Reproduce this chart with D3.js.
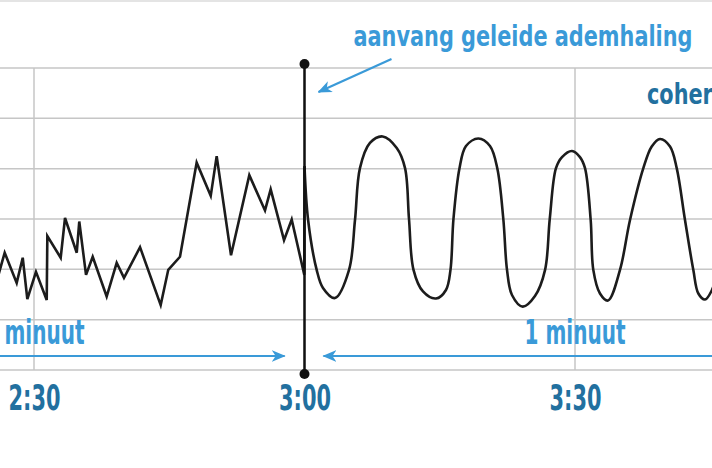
<!DOCTYPE html>
<html><head><meta charset="utf-8">
<script src="https://cdn.jsdelivr.net/npm/d3@7"></script>
<style>html,body{margin:0;padding:0;background:#fff;overflow:hidden}svg{display:block}</style>
</head><body>
<svg id="c" width="712" height="468"></svg>
<script>
// ---- data ----
const xTickSeconds = [150, 180, 210];
const xTickLabels = ["2:30", "3:00", "3:30"];
const gridValues = [50, 60, 70, 80, 90, 100, 110];

// heart rhythm before guided breathing (seconds, value)
const beforeTimes  = [145.9, 146.75, 148.08, 148.75, 149.26, 150.22, 151.41, 151.48, 152.96, 153.44, 154.74, 155.02, 155.77, 156.51, 158.06, 159.17, 159.98, 161.76, 164.05, 164.89, 166.19, 168.04, 169.60, 170.26, 171.85, 173.88, 175.62, 176.25, 177.73, 178.58, 179.98];
const beforeValues = [67.9, 73.3, 67.3, 72.3, 64.1, 69.5, 63.9, 76.6, 72.3, 80.2, 73.3, 79.5, 68.9, 72.5, 64.6, 71.3, 68.3, 74.4, 62.9, 69.9, 72.5, 91.2, 84.6, 92.5, 72.8, 88.7, 81.7, 85.9, 75.8, 79.9, 68.9];

// heart rhythm during guided breathing
const afterTimes  = [180.00, 180.40, 181.35, 182.05, 183.38, 184.94, 185.60, 186.15, 187.26, 188.67, 190.23, 191.15, 191.59, 192.09, 193.14, 194.58, 195.69, 196.19, 196.52, 197.19, 197.91, 199.28, 200.57, 201.38, 202.05, 202.46, 203.01, 204.20, 205.56, 206.68, 207.20, 207.89, 208.56, 209.67, 210.55, 211.11, 211.74, 212.03, 212.77, 213.66, 214.99, 216.10, 217.58, 218.51, 219.43, 220.54, 221.28, 222.20, 223.12, 223.68, 224.42, 225.19, 225.86];
const afterValues = [90.5, 79.8, 69.9, 66.3, 64.3, 69.9, 79.8, 90.1, 95.1, 96.4, 94.1, 90.1, 80.0, 69.9, 65.6, 64.2, 65.9, 69.9, 80.0, 90.1, 94.5, 96.0, 94.5, 90.1, 80.0, 69.9, 64.9, 62.6, 64.7, 69.9, 80.0, 90.1, 92.3, 93.5, 92.3, 90.1, 79.8, 69.9, 65.2, 63.8, 69.9, 79.8, 90.1, 94.4, 95.9, 94.4, 90.1, 79.8, 69.9, 65.2, 64.0, 65.9, 69.9];

const markerTime = 180;
const markerLabel = "aanvang geleide ademhaling";
const phaseLabel = "coherentie";
const spanStarts = [120, 180];
const spanEnds = [180, 240];
const spanLabel = "1 minuut";

// ---- drawing ----
const W = 712, H = 468;
const lightBlue = "#3a9ad8", darkBlue = "#22709f";
const font = "'Liberation Sans Narrow', 'DejaVu Sans Condensed', sans-serif";
const x = d3.scaleLinear().domain([150, 210]).range([34, 575]);
const y = d3.scaleLinear().domain([50, 110]).range([370, 68]);
const svg = d3.select("#c");

const defs = svg.append("defs");
defs.append("marker").attr("id", "ah").attr("viewBox", "0 0 14 12")
  .attr("markerWidth", 14).attr("markerHeight", 12).attr("markerUnits", "userSpaceOnUse")
  .attr("refX", 13).attr("refY", 6).attr("orient", "auto")
  .append("path").attr("d", "M0,0 L14,6 L0,12 L4,6 Z").attr("fill", lightBlue);

// top border
svg.append("line").attr("x1", 0).attr("x2", W).attr("y1", 1).attr("y2", 1)
  .attr("stroke", "#e4e4e4").attr("stroke-width", 2);

// grid
svg.append("g").selectAll("line").data(gridValues).join("line")
  .attr("x1", 0).attr("x2", W).attr("y1", d => y(d)).attr("y2", d => y(d))
  .attr("stroke", "#c6c6c6").attr("stroke-width", 1.5);
svg.append("g").selectAll("line").data(xTickSeconds).join("line")
  .attr("x1", d => x(d)).attr("x2", d => x(d)).attr("y1", y(110)).attr("y2", y(50))
  .attr("stroke", "#c6c6c6").attr("stroke-width", 1.5);

// axis labels
const axis = d3.axisBottom(x).tickValues(xTickSeconds).tickFormat((d, i) => xTickLabels[i]).tickSize(0).tickPadding(0);
const ag = svg.append("g").attr("transform", `translate(0,${y(50) + 40})`).call(axis);
ag.select(".domain").remove();
ag.attr("font-family", font).attr("font-size", 35).attr("font-weight", "bold");
ag.selectAll("text").attr("y", 0).attr("dy", 0).attr("fill", darkBlue)
  .attr("textLength", 52).attr("lengthAdjust", "spacingAndGlyphs");

// data lines
const before = beforeTimes.map((t, i) => [t, beforeValues[i]]);
const after = afterTimes.map((t, i) => [t, afterValues[i]]);
const lineLin = d3.line().x(d => x(d[0])).y(d => y(d[1])).curve(d3.curveLinear);
const lineSmooth = d3.line().x(d => x(d[0])).y(d => y(d[1])).curve(d3.curveCatmullRom.alpha(0.5));
svg.append("path").attr("d", lineLin(before.concat([after[0]])))
  .attr("fill", "none").attr("stroke", "#1c1c1c").attr("stroke-width", 2.6).attr("stroke-linejoin", "miter");
svg.append("path").attr("d", lineSmooth(after))
  .attr("fill", "none").attr("stroke", "#1c1c1c").attr("stroke-width", 2.6);

// marker line at start of guided breathing
const mx = x(markerTime);
svg.append("line").attr("x1", mx).attr("x2", mx).attr("y1", y(110) - 4).attr("y2", y(50) + 4)
  .attr("stroke", "#111").attr("stroke-width", 2.5);
svg.selectAll("circle.end").data([y(110) - 4, y(50) + 4]).join("circle").attr("class", "end")
  .attr("cx", mx).attr("cy", d => d).attr("r", 5).attr("fill", "#111");

// annotation text (horizontally condensed by scaling) + arrow
const ann = svg.append("text").attr("x", 0).attr("y", 0)
  .attr("font-family", font).attr("font-size", 28).attr("font-weight", "bold")
  .attr("fill", lightBlue).text(markerLabel);
const sc = 339 / ann.node().getComputedTextLength();
ann.attr("transform", `translate(${mx + 49},46) scale(${sc},1)`);
svg.append("line").attr("x1", mx + 87).attr("y1", 59).attr("x2", mx + 14).attr("y2", 92)
  .attr("stroke", lightBlue).attr("stroke-width", 2.2).attr("marker-end", "url(#ah)");

svg.append("text").attr("x", 0).attr("y", 0)
  .attr("transform", `translate(${x(210) + 72},104) scale(${sc},1)`)
  .attr("font-family", font).attr("font-size", 28).attr("font-weight", "bold")
  .attr("fill", darkBlue).text(phaseLabel);

// span arrows "1 minuut"
const spans = spanStarts.map((s, i) => ({ s: s, e: spanEnds[i] }));
const ay = y(50) - 14;
spans.forEach(sp => {
  const tipT = sp.s < markerTime ? sp.e - 2.2 : sp.s + 2.1;
  const farT = sp.s < markerTime ? sp.s : sp.e;
  svg.append("line").attr("x1", x(farT)).attr("x2", x(tipT)).attr("y1", ay).attr("y2", ay)
    .attr("stroke", lightBlue).attr("stroke-width", 2.2).attr("marker-end", "url(#ah)");
  svg.append("text").attr("x", x((sp.s + sp.e) / 2)).attr("y", y(50) - 26.5)
    .attr("text-anchor", "middle").attr("font-family", font).attr("font-size", 33).attr("font-weight", "bold")
    .attr("fill", lightBlue).attr("textLength", 101).attr("lengthAdjust", "spacingAndGlyphs")
    .text(spanLabel);
});
</script>
</body></html>
